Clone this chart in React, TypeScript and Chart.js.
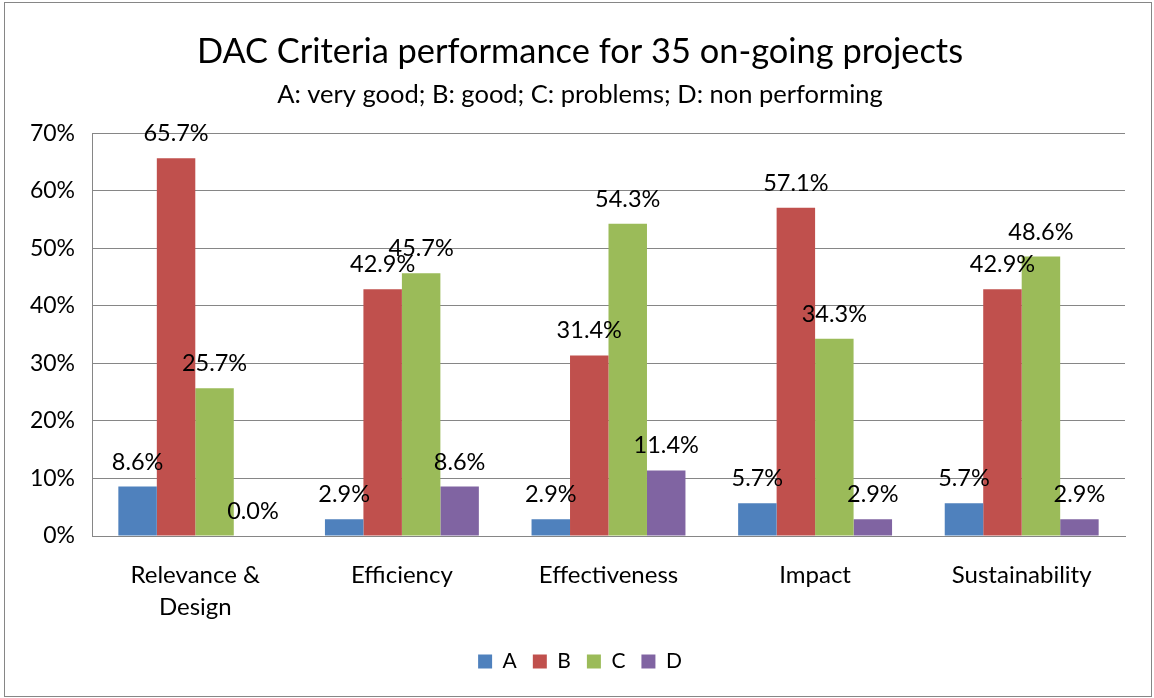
import React, { useEffect, useRef } from "react";
import { Chart, registerables } from "chart.js";

Chart.register(...registerables);

const categories: (string | string[])[] = [["Relevance &", "Design"], "Efficiency", "Effectiveness", "Impact", "Sustainability"];
const seriesA = [8.6, 2.9, 2.9, 5.7, 5.7];
const seriesB = [65.7, 42.9, 31.4, 57.1, 42.9];
const seriesC = [25.7, 45.7, 54.3, 34.3, 48.6];
const seriesD = [0.0, 8.6, 11.4, 2.9, 2.9];
const seriesNames = ["A", "B", "C", "D"];
const seriesColors = ["#4F81BD", "#C0504D", "#9BBB59", "#8064A2"];
const yTicks = [0, 10, 20, 30, 40, 50, 60, 70];

const FONT = "Lato";

const borderPlugin = {
  id: "outerBorder",
  beforeDraw(chart: any) {
    const ctx = chart.ctx;
    ctx.save();
    ctx.fillStyle = "#ffffff";
    ctx.fillRect(0, 0, chart.width, chart.height);
    ctx.strokeStyle = "#868686";
    ctx.lineWidth = 1;
    ctx.strokeRect(4.5, 2.5, 1147, 694);
    ctx.restore();
  },
};

const dataLabelPlugin = {
  id: "dataLabels",
  afterDatasetsDraw(chart: any) {
    const ctx = chart.ctx;
    ctx.save();
    ctx.font = `23.5px ${FONT}`;
    ctx.fillStyle = "#000";
    ctx.textAlign = "center";
    ctx.textBaseline = "alphabetic";
    chart.data.datasets.forEach((ds: any, i: number) => {
      const meta = chart.getDatasetMeta(i);
      meta.data.forEach((bar: any, j: number) => {
        const v = ds.data[j] as number;
        ctx.fillText(v.toFixed(1) + "%", bar.x, bar.y - 17);
      });
    });
    ctx.restore();
  },
};

export default function App() {
  const ref = useRef<HTMLCanvasElement>(null);
  useEffect(() => {
    document.body.style.margin = "0";
    const series = [seriesA, seriesB, seriesC, seriesD];
    const chart = new Chart(ref.current!, {
      type: "bar",
      data: {
        labels: categories,
        datasets: series.map((d, i) => ({
          label: seriesNames[i],
          data: d,
          backgroundColor: seriesColors[i],
          borderWidth: 0,
          categoryPercentage: 0.745,
          barPercentage: 1.0,
        })),
      },
      options: {
        animation: false,
        responsive: false,
        devicePixelRatio: 1,
        layout: { padding: { left: 26, right: 20, top: 0, bottom: 16 } },
        plugins: {
          title: {
            display: true,
            text: "DAC Criteria performance for 35 on-going projects",
            color: "#000",
            font: { family: FONT, size: 34.4, weight: "normal", lineHeight: 1.2 },
            padding: { top: 31, bottom: 7 },
          },
          subtitle: {
            display: true,
            text: "A: very good; B: good; C: problems; D: non performing",
            color: "#000",
            font: { family: FONT, size: 25.5, weight: "normal", lineHeight: 1.2 },
            padding: { top: 0, bottom: 23.6 },
          },
          legend: {
            position: "bottom",
            labels: {
              boxWidth: 14,
              boxHeight: 14,
              padding: 16,
              color: "#000",
              font: { family: FONT, size: 21 },
            },
          },
          tooltip: { enabled: false },
        },
        scales: {
          x: {
            grid: { display: false, drawTicks: false },
            border: { color: "#868686", width: 1 },
            ticks: {
              color: "#000",
              font: { family: FONT, size: 24, lineHeight: 1.35 },
              padding: 23,
              maxRotation: 0,
              autoSkip: false,
            },
            afterFit(scale: any) {
              scale.height = 99;
            },
          },
          y: {
            min: 0,
            max: 70,
            grid: { color: "#868686", drawTicks: false },
            border: { color: "#868686", width: 1 },
            afterBuildTicks(scale: any) {
              scale.ticks = yTicks.map((v) => ({ value: v }));
            },
            ticks: {
              color: "#000",
              font: { family: FONT, size: 23 },
              padding: 17,
              callback: (v: any) => v + "%",
            },
            afterFit(scale: any) {
              scale.width = 66;
            },
          },
          y2: {
            position: "right",
            display: true,
            grid: { display: false, drawTicks: false },
            border: { display: false },
            ticks: { display: false },
            afterFit(scale: any) {
              scale.width = 9;
            },
          },
        },
      },
      plugins: [borderPlugin, dataLabelPlugin],
    });
    return () => chart.destroy();
  }, []);
  return (
    <div style={{ width: 1154, height: 698 }}>
      <canvas ref={ref} width={1154} height={698} style={{ display: "block" }} />
    </div>
  );
}
